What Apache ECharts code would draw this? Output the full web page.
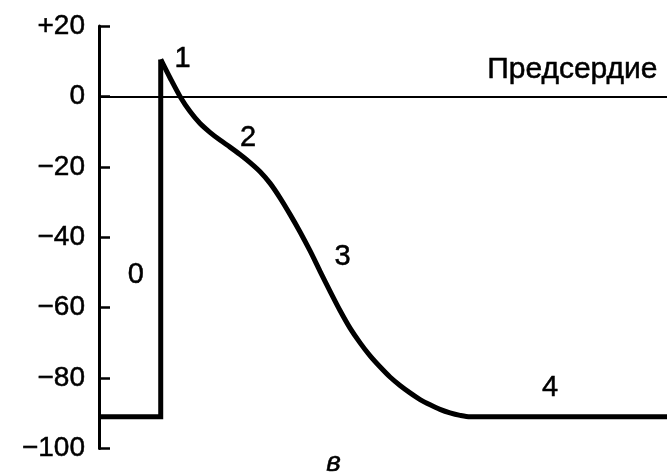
<!DOCTYPE html>
<html>
<head>
<meta charset="utf-8">
<style>
  html, body { margin: 0; padding: 0; background: #fff; }
  #chart { width: 667px; height: 472px; }
</style>
<script src="https://cdn.jsdelivr.net/npm/echarts@6/dist/echarts.min.js"></script>
</head>
<body>
<div id="chart"></div>
<script>
// Atrial action potential (membrane potential, mV, versus time, ms)
const yTicks = [-100, -80, -60, -40, -20, 0, 20];
const yTickLabels = ['−100', '−80', '−60', '−40', '−20', '0', '+20'];

// Resting level and phase 0 upstroke
const restAndUpstroke = [[0, -91], [32.6, -91], [32.6, 10.5]];

// Phases 1-4: repolarisation back to the resting level
const repolarisation = [
  [32.6, 10.5], [37.5, 5.3], [42.8, 0], [48.1, -4.3], [53.4, -7.7], [58.6, -10.2],
  [63.9, -12.4], [69.2, -14.4], [74.5, -16.5], [79.8, -18.8], [85.1, -21.4],
  [90.4, -24.7], [95.6, -28.8], [100.9, -33.5], [106.2, -38.5], [111.5, -43.9],
  [116.7, -49.6], [122.0, -55.3], [127.3, -60.8], [132.6, -65.8], [137.9, -70.0],
  [143.2, -73.7], [148.4, -76.8], [153.7, -79.7], [159.0, -82.1], [164.3, -84.2],
  [169.6, -86.1], [174.9, -87.6], [180.1, -88.9], [185.4, -89.9], [190.7, -90.6],
  [196.0, -91], [201.3, -91], [300, -91]
];

// Phase numbers and where they sit
const phaseLabels = ['0', '1', '2', '3', '4'];
const phaseLabelPos = [[19.5, -50.7], [44.1, 10.7], [78.7, -11.8], [128.6, -45.5], [238.2, -82.9]];

const chamberName = 'Предсердие';
const chamberNamePos = [250, 7.5];
const panelLetter = 'в';

const FONT = '"Liberation Sans", Arial, sans-serif';

const chart = echarts.init(document.getElementById('chart'), null, { renderer: 'canvas' });

const annotationData = phaseLabels.map((t, i) => ({ value: phaseLabelPos[i], name: t }));

const textStyle = (size) => ({
  show: true, position: 'inside', formatter: p => p.name,
  color: '#000', fontFamily: FONT, fontSize: size,
  textBorderColor: '#000', textBorderWidth: 0.5
});

chart.setOption({
  animation: false,
  backgroundColor: '#ffffff',
  grid: { left: 99, right: 0, top: 26, bottom: 23.5, containLabel: false },
  xAxis: {
    type: 'value', min: 0, max: 300,
    show: false
  },
  yAxis: {
    type: 'value', min: -100, max: 20, interval: 20,
    axisLine: { show: true, onZero: false, lineStyle: { color: '#000', width: 3 } },
    axisTick: { show: true, inside: true, length: 11, lineStyle: { color: '#000', width: 2.5 } },
    axisLabel: {
      margin: 14, color: '#000', fontFamily: FONT, fontSize: 28,
      textBorderColor: '#000', textBorderWidth: 0.5,
      formatter: v => yTickLabels[yTicks.indexOf(v)]
    },
    splitLine: { show: false }
  },
  series: [
    {
      type: 'line', data: restAndUpstroke, symbol: 'none', smooth: false,
      lineStyle: { color: '#000', width: 5, join: 'miter', cap: 'butt' },
      markLine: {
        silent: true, symbol: 'none',
        label: { show: false },
        lineStyle: { color: '#000', width: 2, type: 'solid' },
        data: [{ yAxis: 0 }]
      },
      z: 3
    },
    {
      type: 'line', data: repolarisation, symbol: 'none', smooth: 0.3,
      lineStyle: { color: '#000', width: 5, join: 'round', cap: 'butt' },
      z: 3
    },
    {
      type: 'scatter', data: annotationData, symbolSize: 0, silent: true,
      itemStyle: { opacity: 1 },
      label: textStyle(29),
      z: 4
    },
    {
      type: 'scatter', data: [{ value: chamberNamePos, name: chamberName }], symbolSize: 0, silent: true,
      itemStyle: { opacity: 1 },
      label: textStyle(30),
      z: 4
    }
  ],
  graphic: [
    {
      type: 'text', left: 326, top: 449,
      style: { text: panelLetter, fill: '#000', font: 'italic 28px "Liberation Sans", Arial, sans-serif',
               stroke: '#000', lineWidth: 0.5 }
    }
  ]
});
</script>
</body>
</html>
